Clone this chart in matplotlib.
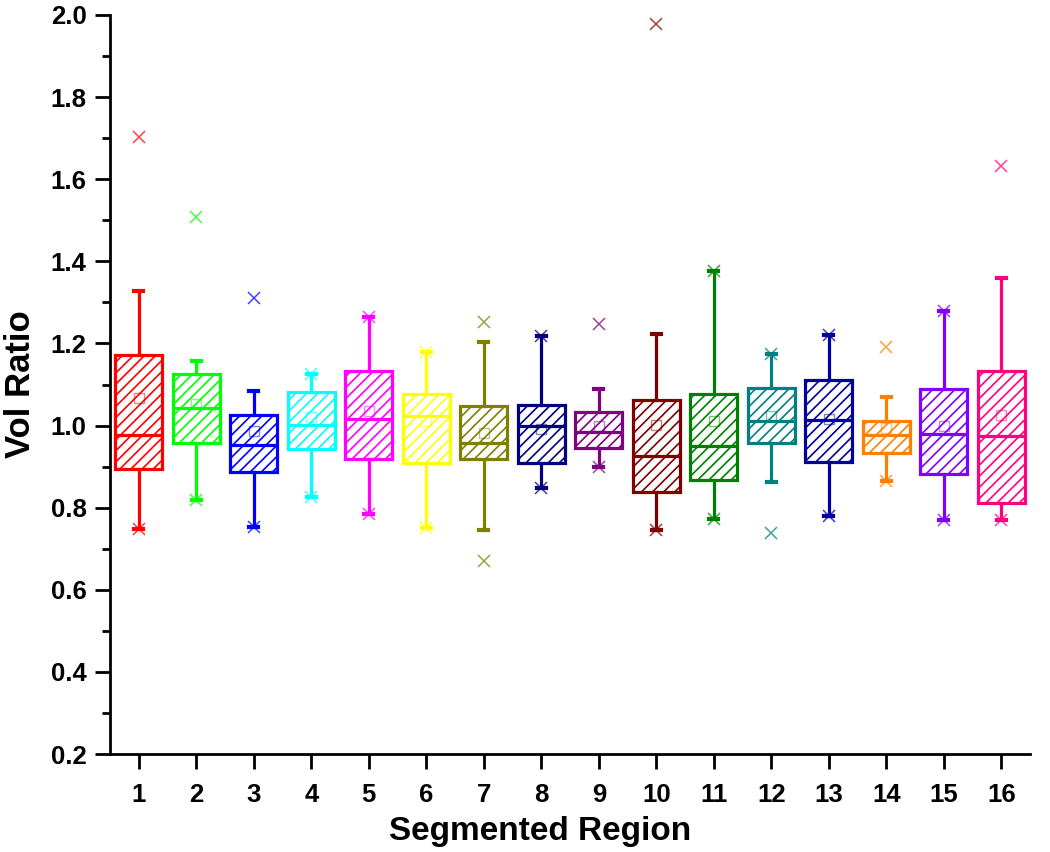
import matplotlib
matplotlib.use("Agg")
import matplotlib.pyplot as plt

plt.rcParams['font.family'] = ['Liberation Sans', 'DejaVu Sans']
plt.rcParams['font.weight'] = 'bold'
plt.rcParams['hatch.linewidth'] = 1.2

regions = list(range(1, 17))
q1 = [0.894, 0.958, 0.887, 0.942, 0.918, 0.908, 0.919, 0.908,
      0.945, 0.837, 0.867, 0.957, 0.911, 0.932, 0.882, 0.812]
median = [0.977, 1.043, 0.953, 1.001, 1.016, 1.024, 0.957, 1.000,
          0.984, 0.926, 0.951, 1.010, 1.014, 0.977, 0.980, 0.975]
q3 = [1.172, 1.126, 1.026, 1.082, 1.132, 1.076, 1.047, 1.049,
      1.033, 1.062, 1.077, 1.091, 1.111, 1.012, 1.088, 1.134]
mean = [1.068, 1.053, 0.987, 1.022, 1.035, 1.012, 0.981, 0.991,
        0.999, 1.001, 1.012, 1.024, 1.016, 0.995, 1.000, 1.026]
whisk_lo = [0.748, 0.818, 0.754, 0.825, 0.785, 0.750, 0.746, 0.847,
            0.900, 0.746, 0.772, 0.862, 0.780, 0.866, 0.770, 0.770]
whisk_hi = [1.328, 1.158, 1.085, 1.126, 1.264, 1.180, 1.204, 1.217,
            1.089, 1.223, 1.377, 1.174, 1.221, 1.069, 1.280, 1.360]
minimum = [0.748, 0.818, 0.754, 0.825, 0.785, 0.750, 0.671, 0.847,
           0.900, 0.746, 0.772, 0.738, 0.780, 0.866, 0.770, 0.770]
maximum = [1.702, 1.509, 1.311, 1.126, 1.264, 1.180, 1.252, 1.217,
           1.247, 1.979, 1.377, 1.174, 1.221, 1.191, 1.280, 1.632]
colors = ['#FF0000', '#00FF00', '#0000FF', '#00FFFF', '#FF00FF', '#FFFF00',
          '#808000', '#000080', '#800080', '#800000', '#008000', '#008080',
          '#0000A0', '#FF8000', '#8000FF', '#FF0080']

stats = []
for i in range(len(regions)):
    stats.append(dict(med=median[i], q1=q1[i], q3=q3[i], mean=mean[i],
                      whislo=whisk_lo[i], whishi=whisk_hi[i],
                      fliers=[minimum[i], maximum[i]]))

fig = plt.figure(figsize=(10.5, 8.52), dpi=100)
ax = fig.add_axes([0.1048, 0.115, 0.8762, 0.8674])

bp = ax.bxp(stats, positions=regions, widths=0.82, capwidths=0.16,
            patch_artist=True, showmeans=True, showfliers=True)

for i, c in enumerate(colors):
    box = bp['boxes'][i]
    box.set_facecolor('none')
    box.set_edgecolor(c)
    box.set_linewidth(2.3)
    box.set_hatch('///')
    bp['medians'][i].set(color=c, linewidth=2.3)
    for w in bp['whiskers'][2 * i:2 * i + 2]:
        w.set(color=c, linewidth=2.3)
    for cp in bp['caps'][2 * i:2 * i + 2]:
        cp.set(color=c, linewidth=3)
    bp['fliers'][i].set(marker='x', markersize=9, markeredgewidth=1.1,
                        markeredgecolor=c, alpha=0.75)
    bp['means'][i].set(marker='s', markersize=7, markerfacecolor='none',
                       markeredgecolor=c, markeredgewidth=1.0, alpha=0.5)

ax.set_xlim(0.5, 16.5)
ax.set_ylim(0.2, 2.0)
ax.set_xticks(regions)
ax.set_xticklabels([str(r) for r in regions])
ax.set_yticks([0.2, 0.4, 0.6, 0.8, 1.0, 1.2, 1.4, 1.6, 1.8, 2.0])
ax.set_yticks([0.3, 0.5, 0.7, 0.9, 1.1, 1.3, 1.5, 1.7, 1.9], minor=True)
ax.yaxis.set_major_formatter(matplotlib.ticker.FormatStrFormatter('%.1f'))

ax.spines['top'].set_visible(False)
ax.spines['right'].set_visible(False)
ax.spines['left'].set_linewidth(2)
ax.spines['bottom'].set_linewidth(2)
ax.tick_params(axis='both', which='major', direction='out', length=11,
               width=2, labelsize=18.5, pad=6)
ax.tick_params(axis='x', which='major', pad=10)
ax.tick_params(axis='y', which='minor', direction='out', length=6, width=2)

ax.set_xlabel('Segmented Region', fontsize=24, fontweight='bold',
              labelpad=6, x=0.467)
ax.set_ylabel('Vol Ratio', fontsize=25, fontweight='bold', labelpad=10)

fig.savefig('out.png', dpi=100)
